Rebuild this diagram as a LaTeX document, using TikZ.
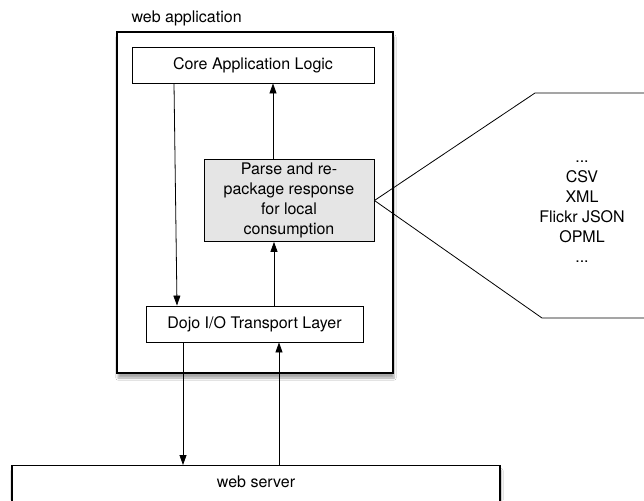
\documentclass[tikz,border=0pt]{standalone}
\usepackage{fontspec}
\setmainfont{TeX Gyre Heros}
\usepackage{tikz}
\usetikzlibrary{positioning,arrows.meta,shadows.blur}

\begin{document}
\begin{tikzpicture}[x=1pt,y=-1pt,
        box/.style={rectangle,draw=black,line width=0.9pt,fill=white,
                    align=center,font=\fontsize{16}{20}\selectfont},
        frame/.style={box,line width=1.3pt,
                      blur shadow={shadow xshift=1pt,shadow yshift=-5pt,
                                   shadow blur steps=6,shadow opacity=35}},
        arr/.style={-{Triangle[length=10pt,width=7pt]},line width=0.8pt}]
    \clip (0,0) rectangle (644,500);
    \fill[white] (0,0) rectangle (644,500);

    % web application frame
    \node[frame,minimum width=276,minimum height=341] (app) at (255,202.5) {};
    \node[font=\fontsize{16}{19}\selectfont,anchor=west] (applabel) at (128,18) {web application};

    \node[box,minimum width=242,minimum height=36] (core) at (253,65) {Core Application Logic};
    \node[box,fill=black!10,minimum width=170,minimum height=75] (parse) at (289,200.5)
      {Parse and re-\\package response\\for local\\consumption};
    \node[box,minimum width=217,minimum height=36] (dojo) at (254.5,324) {Dojo I/O Transport Layer};

    % web server, cut off by the page
    \node[frame,minimum width=488,minimum height=60,anchor=north] (server) at (256,465) {};
    \node[font=\fontsize{16}{20}\selectfont] (serverlabel) at ([yshift=-17pt]server.north) {web server};

    % formats callout
    \coordinate (ctop) at (535,93);
    \coordinate (cbot) at (542,318);
    \draw[line width=0.8pt] (parse.east) -- (ctop) -- (ctop -| 660,0);
    \draw[line width=0.8pt] (parse.east) -- (cbot) -- (cbot -| 660,0);
    \node[align=center,font=\fontsize{16}{20}\selectfont] (formats) at (582,212)
      {...\\CSV\\XML\\Flickr JSON\\OPML\\...};

    \draw[arr] ([xshift=-79pt]core.south) -- ([xshift=-77.5pt]dojo.north);
    \draw[arr] ([xshift=-16pt]parse.north) -- ([xshift=-16pt]parse.north |- core.south);
    \draw[arr] ([xshift=-15pt]parse.south |- dojo.north) -- ([xshift=-15pt]parse.south);
    \draw[arr] ([xshift=-71.5pt]dojo.south) -- ([xshift=-71.5pt]dojo.south |- server.north);
    \draw[arr] ([xshift=24.5pt]dojo.south |- server.north) -- ([xshift=24.5pt]dojo.south);
  \end{tikzpicture}
\end{document}
